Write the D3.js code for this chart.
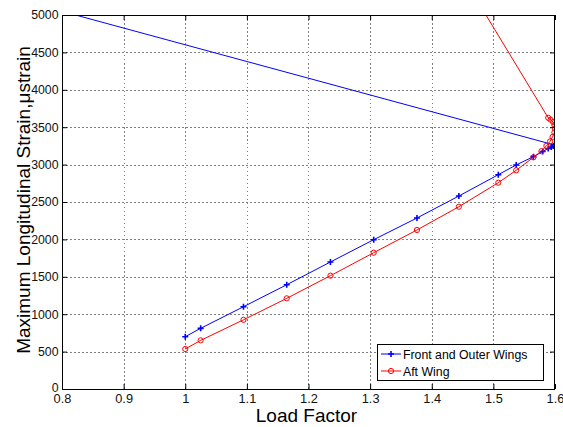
<!DOCTYPE html>
<html>
<head>
<meta charset="utf-8">
<script src="https://cdn.jsdelivr.net/npm/d3@7"></script>
<style>
  html, body { margin: 0; padding: 0; background: #fff; }
  svg { display: block; font-family: "Liberation Sans", Arial, sans-serif; }
</style>
</head>
<body>
<svg id="chart" width="563" height="427"></svg>
<script>
// Load factor vs. maximum longitudinal strain for the two wing groups
const frontLoad = [1.0, 1.025, 1.0945, 1.1647, 1.2356, 1.3058, 1.376, 1.444, 1.508, 1.537, 1.565, 1.58, 1.589, 1.594, 1.597, 1.599, 1.6, 0.75];
const frontStrain = [699, 811, 1100, 1394, 1698, 1996, 2286, 2580, 2865, 2995, 3106, 3175, 3215, 3235, 3248, 3256, 3260, 5161];

const aftLoad = [1.0, 1.025, 1.0945, 1.1647, 1.2356, 1.3058, 1.376, 1.444, 1.508, 1.537, 1.565, 1.578, 1.586, 1.592, 1.596, 1.599, 1.6, 1.599, 1.597, 1.593, 1.589, 1.46];
const aftStrain = [535, 650, 925, 1212, 1515, 1822, 2126, 2437, 2758, 2924, 3097, 3180, 3250, 3310, 3370, 3430, 3480, 3530, 3570, 3600, 3625, 5380];

const xTicks = [0.8, 0.9, 1.0, 1.1, 1.2, 1.3, 1.4, 1.5, 1.6];
const yTicks = [0, 500, 1000, 1500, 2000, 2500, 3000, 3500, 4000, 4500, 5000];
const seriesNames = ["Front and Outer Wings", "Aft Wing"];
const seriesColors = ["#0000ff", "#ff0000"];

const svg = d3.select("#chart");
const mLeft = 62, mRight = 555, mTop = 15, mBottom = 389;

const x = d3.scaleLinear().domain([0.8, 1.6]).range([mLeft, mRight]);
const y = d3.scaleLinear().domain([0, 5000]).range([mBottom, mTop]);

// grid
const grid = svg.append("g").attr("stroke", "#808080").attr("stroke-width", 1)
  .attr("stroke-dasharray", "1.5,2.5").attr("shape-rendering", "crispEdges");
xTicks.slice(1, -1).forEach(t => {
  grid.append("line").attr("x1", Math.round(x(t)) + 0.5).attr("x2", Math.round(x(t)) + 0.5)
    .attr("y1", mTop).attr("y2", mBottom);
});
yTicks.slice(1, -1).forEach(t => {
  grid.append("line").attr("y1", Math.round(y(t)) + 0.5).attr("y2", Math.round(y(t)) + 0.5)
    .attr("x1", mLeft).attr("x2", mRight);
});

// clip to the axes box
svg.append("clipPath").attr("id", "plotClip").append("rect")
  .attr("x", mLeft).attr("y", mTop).attr("width", mRight - mLeft).attr("height", mBottom - mTop);

const line = d3.line().x(d => x(d[0])).y(d => y(d[1]));
const frontData = frontLoad.map((v, i) => [v, frontStrain[i]]);
const aftData = aftLoad.map((v, i) => [v, aftStrain[i]]);

const plot = svg.append("g").attr("clip-path", "url(#plotClip)");

function plusMarker(g, px, py, color) {
  g.append("path").attr("d", `M${px - 3},${py}H${px + 3}M${px},${py - 3}V${py + 3}`)
    .attr("stroke", color).attr("stroke-width", 1.6).attr("fill", "none");
}
function circleMarker(g, px, py, color) {
  g.append("circle").attr("cx", px).attr("cy", py).attr("r", 2.6)
    .attr("stroke", color).attr("stroke-width", 1).attr("fill", "none");
}

plot.append("path").datum(frontData).attr("d", line)
  .attr("fill", "none").attr("stroke", seriesColors[0]).attr("stroke-width", 1);
frontData.forEach(d => plusMarker(plot, x(d[0]), y(d[1]), seriesColors[0]));

plot.append("path").datum(aftData).attr("d", line)
  .attr("fill", "none").attr("stroke", seriesColors[1]).attr("stroke-width", 1);
aftData.forEach(d => circleMarker(plot, x(d[0]), y(d[1]), seriesColors[1]));

// axes box with inward ticks on all sides
const axisG = svg.append("g").attr("shape-rendering", "crispEdges");
axisG.append("rect").attr("x", mLeft + 0.5).attr("y", mTop + 0.5)
  .attr("width", mRight - mLeft - 1).attr("height", mBottom - mTop)
  .attr("fill", "none").attr("stroke", "#000").attr("stroke-width", 1);

const xAxis = d3.axisBottom(x).tickValues(xTicks).tickSizeInner(-5).tickSizeOuter(0)
  .tickFormat(d => String(+d.toFixed(1)));
const gx = svg.append("g").attr("transform", `translate(0,${mBottom})`).call(xAxis);
gx.select(".domain").remove();
gx.selectAll("text").attr("font-size", 12.8).attr("fill", "#111").attr("dy", null)
  .attr("font-family", "Liberation Sans, Arial, sans-serif").attr("y", 13.7);
const gxTop = svg.append("g").attr("transform", `translate(0,${mTop})`)
  .call(d3.axisTop(x).tickValues(xTicks).tickSizeInner(-5).tickSizeOuter(0).tickFormat(""));
gxTop.select(".domain").remove();

const yAxis = d3.axisLeft(y).tickValues(yTicks).tickSizeInner(-5).tickSizeOuter(0)
  .tickFormat(d => String(d));
const gy = svg.append("g").attr("transform", `translate(${mLeft},0)`).call(yAxis);
gy.select(".domain").remove();
gy.selectAll("text").attr("font-size", 12.3).attr("fill", "#111")
  .attr("font-family", "Liberation Sans, Arial, sans-serif").attr("x", -3.5);
gy.selectAll(".tick").filter(d => d === 0).select("text").attr("dy", "0.2em");
const gyRight = svg.append("g").attr("transform", `translate(${mRight},0)`)
  .call(d3.axisRight(y).tickValues(yTicks).tickSizeInner(-5).tickSizeOuter(0).tickFormat(""));
gyRight.select(".domain").remove();
svg.selectAll(".tick line").attr("stroke", "#000");

// axis titles
svg.append("text").attr("x", 306.5).attr("y", 421.5).attr("text-anchor", "middle")
  .attr("font-size", 19).attr("fill", "#000").text("Load Factor");
svg.append("text").attr("transform", `translate(30,200) rotate(-90)`)
  .attr("text-anchor", "middle").attr("font-size", 19).attr("fill", "#000")
  .text("Maximum Longitudinal Strain,\u03bcstrain");

// legend
const lg = svg.append("g");
lg.append("rect").attr("x", 377.5).attr("y", 344.5).attr("width", 166).attr("height", 36)
  .attr("fill", "#fff").attr("stroke", "#000").attr("stroke-width", 1).attr("shape-rendering", "crispEdges");
seriesNames.forEach((name, i) => {
  const ly = 354 + i * 17;
  lg.append("line").attr("x1", 381).attr("x2", 401).attr("y1", ly).attr("y2", ly)
    .attr("stroke", seriesColors[i]).attr("stroke-width", 1);
  if (i === 0) plusMarker(lg, 391, ly, seriesColors[i]);
  else circleMarker(lg, 391, ly, seriesColors[i]);
  lg.append("text").attr("x", 403).attr("y", ly + 4.5).attr("font-size", 12.3).attr("fill", "#000").text(name);
});
</script>
</body>
</html>
